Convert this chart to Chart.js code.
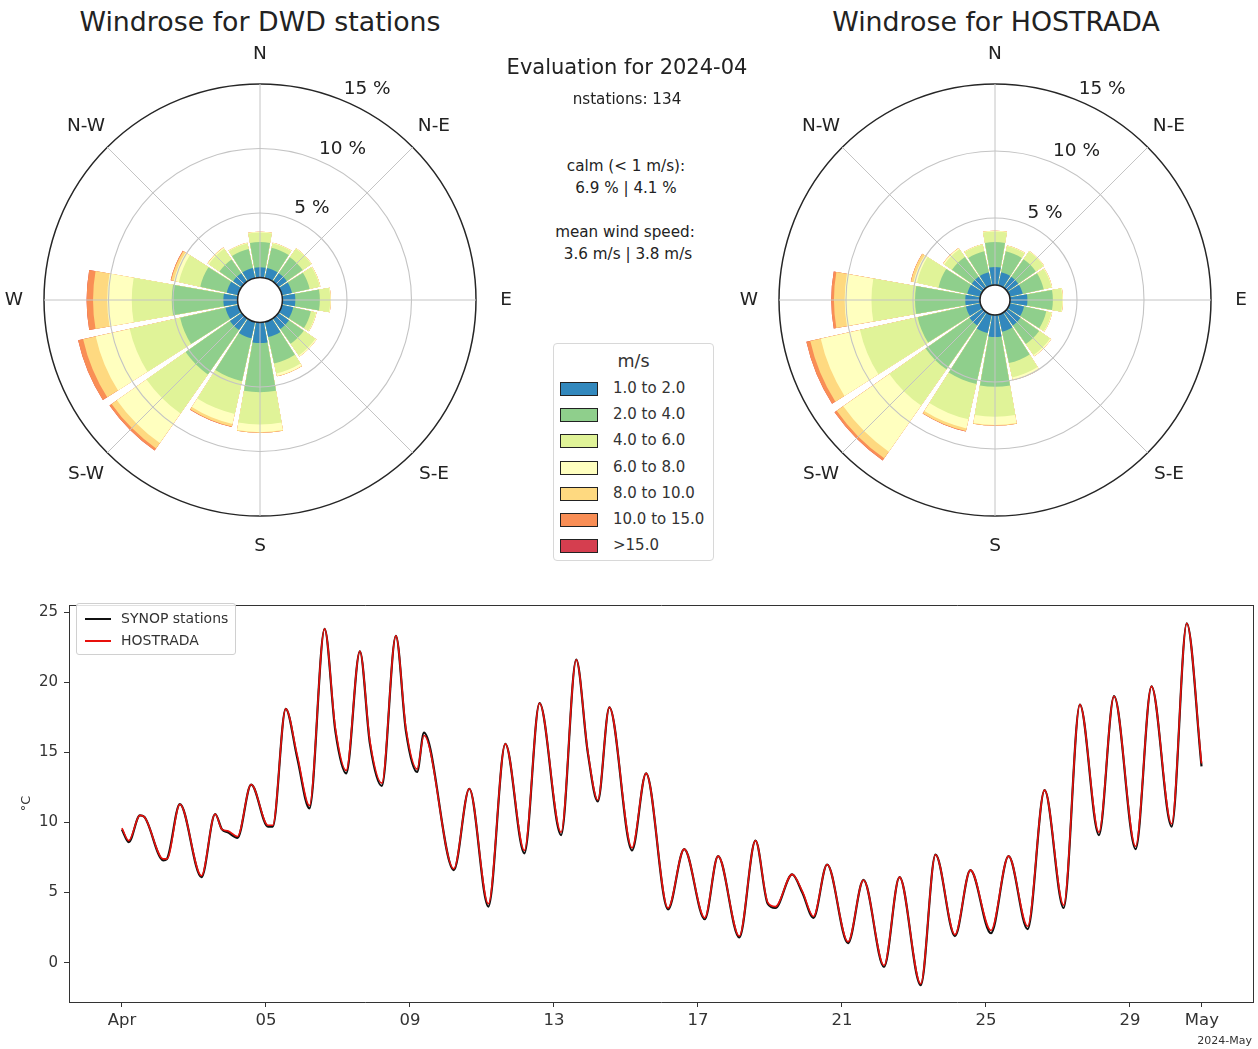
<!DOCTYPE html>
<html><head><meta charset="utf-8">
<script src="https://cdn.jsdelivr.net/npm/chart.js@4"></script>
<style>
body{margin:0;background:#fff;width:1258px;height:1049px;position:relative;overflow:hidden;font-family:"DejaVu Sans",sans-serif;color:#222}
canvas{position:absolute}
.t{position:absolute;transform:translate(-50%,-50%);white-space:nowrap;text-align:center}
#legend{position:absolute;left:553px;top:343px;width:159px;height:216px;border:1px solid #d8d8d8;border-radius:4px}
#legend .row{position:absolute;left:0;height:26px;width:100%}
#legend .sw{position:absolute;left:6px;width:36px;height:12px;border:1.5px solid #222;top:6px}
#legend .lb{position:absolute;left:59px;top:3px;font-size:15px;color:#333}
#lleg{position:absolute;left:76px;top:603px;width:158px;height:50px;border:1px solid #d0d0d0;border-radius:3px;background:rgba(255,255,255,0.85)}
#lleg .ln{position:absolute;left:8px;width:26px;height:2px}
#lleg .lb{position:absolute;left:44px;font-size:14px;color:#333}
</style></head><body>

<canvas id="roseDWD" width="512" height="520" style="left:4px;top:44px"></canvas>
<canvas id="roseHOS" width="512" height="520" style="left:739px;top:44px"></canvas>
<canvas id="temps" width="1258" height="459" style="left:0;top:590px"></canvas>

<div class="t" style="left:260px;top:21px;font-size:26.8px">Windrose for DWD stations</div>
<div class="t" style="left:996px;top:21px;font-size:26.8px">Windrose for HOSTRADA</div>
<div class="t" style="left:627px;top:67px;font-size:21px">Evaluation for 2024-04</div>
<div class="t" id="nst" style="left:627px;top:99px;font-size:15.2px"></div>
<div class="t" style="left:626px;top:166px;font-size:15.2px">calm (&lt; 1 m/s):</div>
<div class="t" id="calm" style="left:626px;top:188px;font-size:15.2px"></div>
<div class="t" style="left:625px;top:232px;font-size:15.2px">mean wind speed:</div>
<div class="t" id="mws" style="left:628px;top:254px;font-size:15.2px"></div>
<div id="legend"></div>
<div id="lleg"></div>
<div style="position:absolute;right:6px;top:1034px;font-size:11px;color:#333">2024-May</div>

<script>
// ---------------- data ----------------
const compassLabels = ['N','N-E','E','S-E','S','S-W','W','N-W'];
// 16 directions: N,NNE,NE,ENE,E,ESE,SE,SSE,S,SSW,SW,WSW,W,WNW,NW,NNW
const speedBins = ['1.0 to 2.0','2.0 to 4.0','4.0 to 6.0','6.0 to 8.0','8.0 to 10.0','10.0 to 15.0','>15.0'];
const rTicks = [5, 10, 15];

// DWD stations: frequency (%) per speed bin and direction
const dwd1 = [0.8,0.8,0.8,0.8,1.0,0.9,1.0,1.2,1.6,1.3,1.1,1.0,1.1,0.9,0.8,0.8];
const dwd2 = [1.95,1.6,1.5,1.4,1.9,1.4,1.4,2.1,3.8,3.4,4.2,3.6,4.0,2.1,1.3,1.5];
const dwd3 = [0.75,0.35,0.8,0.8,0.8,0.4,1.1,0.8,2.5,2.6,3.7,4.0,3.1,1.7,1.0,0.45];
const dwd4 = [0.05,0.05,0.05,0.05,0.05,0.05,0.1,0.2,0.6,0.8,2.8,2.7,1.9,0.4,0.1,0.05];
const dwd5 = [0,0,0,0,0,0,0,0.02,0.05,0.2,0.5,1.0,1.1,0.2,0.02,0];
const dwd6 = [0,0,0,0,0,0,0,0,0,0.05,0.2,0.4,0.5,0.05,0,0];
const dwd7 = [0,0,0,0,0,0,0,0,0,0,0,0,0,0,0,0];

// HOSTRADA
const hos1 = [1.35,1.0,1.0,1.0,1.3,1.1,1.2,1.3,1.65,1.4,1.2,1.1,1.1,1.0,1.0,1.0];
const hos2 = [1.85,1.6,1.6,1.6,1.9,1.7,1.7,2.4,3.7,3.9,4.0,3.7,3.75,2.2,1.8,1.6];
const hos3 = [0.8,0.4,0.7,0.6,0.7,0.4,1.0,1.1,2.25,2.7,3.3,4.4,3.25,1.65,0.7,0.5];
const hos4 = [0.05,0.05,0.05,0.05,0.05,0.05,0.1,0.2,0.6,0.7,4.2,3.0,2.0,0.25,0.1,0.05];
const hos5 = [0,0,0,0,0,0,0,0.02,0.05,0.2,0.6,0.8,0.8,0.2,0.02,0];
const hos6 = [0,0,0,0,0,0,0,0,0,0.03,0.2,0.3,0.2,0.02,0,0];
const hos7 = [0,0,0,0,0,0,0,0,0,0,0,0,0,0,0,0];

const nStations = 134;
const calmPct = [6.9, 4.1];
const meanSpeed = [3.6, 3.8];

// temperature time series (days since 2024-04-01 00:00, °C)
const tDays = [0.00,0.19,0.50,0.62,1.15,1.25,1.61,2.21,2.59,2.78,2.94,3.21,3.59,4.06,4.19,4.55,4.87,5.21,5.63,5.93,6.23,6.61,6.89,7.22,7.61,7.89,8.20,8.39,9.22,9.65,10.18,10.65,11.18,11.60,12.20,12.62,12.94,13.22,13.54,14.17,14.56,15.17,15.62,16.19,16.56,17.15,17.60,17.94,18.15,18.62,18.90,19.21,19.59,20.17,20.60,21.17,21.60,22.19,22.60,23.14,23.57,24.14,24.63,25.16,25.63,26.16,26.61,27.14,27.56,28.16,28.60,29.16,29.58,29.99];
const tHostrada = [9.6,8.7,10.5,10.4,7.4,7.4,11.3,6.2,10.6,9.5,9.4,9.0,12.7,9.8,9.8,18.1,14.8,11.2,23.8,16.7,13.7,22.2,15.8,12.8,23.3,16.7,13.8,16.2,6.7,12.4,4.2,15.6,8.0,18.5,9.3,21.6,15.1,11.6,18.2,8.2,13.5,3.9,8.1,3.2,7.6,1.9,8.7,4.3,4.0,6.3,5.1,3.3,7.0,1.5,5.9,-0.2,6.1,-1.5,7.7,2.0,6.6,2.3,7.6,2.6,12.3,4.1,18.4,9.3,19.0,8.3,19.7,9.9,24.2,14.2];
const tSynop = [9.5,8.6,10.5,10.4,7.3,7.4,11.3,6.1,10.6,9.5,9.3,8.9,12.7,9.7,9.7,18.1,14.6,11.0,23.8,16.5,13.5,22.2,15.6,12.6,23.3,16.5,13.6,16.4,6.6,12.4,4.0,15.6,7.8,18.5,9.1,21.6,15.0,11.5,18.2,8.0,13.5,3.8,8.1,3.1,7.6,1.8,8.7,4.2,3.9,6.3,5.0,3.2,7.0,1.4,5.9,-0.3,6.1,-1.6,7.7,1.9,6.6,2.1,7.6,2.4,12.3,3.9,18.4,9.1,19.0,8.1,19.7,9.7,24.2,14.0];
const xTickPos = [0,4,8,12,16,20,24,28,30];
const xTickLabels = ['Apr','05','09','13','17','21','25','29','May'];
const yTicks = [0,5,10,15,20,25];

// ---------------- styles ----------------
const binColors = ['#3288bd','#8fcf8c','#e0f398','#ffffbf','#fed980','#f98e55','#d53e4f'];
const FONT = '"DejaVu Sans", sans-serif';
const BAR = 20, GAP = 2.5;

// ---------------- text / legends ----------------
document.getElementById('nst').textContent = 'nstations: ' + nStations;
document.getElementById('calm').textContent = calmPct[0].toFixed(1) + ' % | ' + calmPct[1].toFixed(1) + ' %';
document.getElementById('mws').textContent = meanSpeed[0].toFixed(1) + ' m/s | ' + meanSpeed[1].toFixed(1) + ' m/s';

const leg = document.getElementById('legend');
leg.innerHTML = '<div style="position:absolute;left:0;width:100%;top:7px;text-align:center;font-size:17.5px;color:#333">m/s</div>';
speedBins.forEach((b, i) => {
  const row = document.createElement('div');
  row.className = 'row';
  row.style.top = (32 + i * 26.2) + 'px';
  row.innerHTML = '<div class="sw" style="background:' + binColors[i] + '"></div><div class="lb">' + b.replace('>', '&gt;') + '</div>';
  leg.appendChild(row);
});

const seriesStyle = [{label:'SYNOP stations', color:'#111111'}, {label:'HOSTRADA', color:'#e8100c'}];
const lleg = document.getElementById('lleg');
seriesStyle.forEach((s, i) => {
  const ln = document.createElement('div');
  ln.className = 'ln';
  ln.style.top = (14 + i * 22) + 'px';
  ln.style.background = s.color;
  const lb = document.createElement('div');
  lb.className = 'lb';
  lb.style.top = (6 + i * 22) + 'px';
  lb.textContent = s.label;
  lleg.appendChild(ln); lleg.appendChild(lb);
});

// ---------------- wind roses ----------------
const roseDecor = {
  id: 'roseDecor',
  afterDraw(chart) {
    const s = chart.scales.r, ctx = chart.ctx;
    const cx = s.xCenter, cy = s.yCenter;
    ctx.save();
    ctx.beginPath();
    ctx.arc(cx, cy, s.getDistanceFromCenterForValue(0), 0, 2 * Math.PI);
    ctx.fillStyle = '#fff'; ctx.fill();
    ctx.lineWidth = 1.5; ctx.strokeStyle = '#222'; ctx.stroke();
    ctx.fillStyle = '#222';
    ctx.font = '18.5px ' + FONT;
    ctx.textAlign = 'center'; ctx.textBaseline = 'middle';
    compassLabels.forEach((lab, i) => {
      const p = s.getPointPosition(i, s.drawingArea + 30);
      ctx.fillText(lab, p.x, p.y);
    });
    ctx.textAlign = 'left'; ctx.textBaseline = 'bottom';
    const a = 22.5 * Math.PI / 180;
    rTicks.forEach(v => {
      const d = s.getDistanceFromCenterForValue(v);
      ctx.fillText(v + ' %', cx + Math.sin(a) * d + 1, cy - Math.cos(a) * d - 2);
    });
    ctx.restore();
  }
};

function buildRose(id, bins, rMin) {
  let run = new Array(16).fill(0);
  const datasets = bins.map((arr, b) => {
    run = run.map((v, i) => v + arr[i]);
    const data = [0];
    run.forEach(v => data.push(v, 0));
    return {
      label: speedBins[b],
      data,
      borderWidth: 0,
      backgroundColor: c => (c.dataIndex % 2 === 1 ? binColors[b] : 'rgba(0,0,0,0)'),
      angle: c => (c.dataIndex === 0 ? -BAR / 2 : (c.dataIndex % 2 === 1 ? BAR : GAP))
    };
  });
  new Chart(document.getElementById(id), {
    type: 'polarArea',
    data: { labels: compassLabels, datasets },
    options: {
      responsive: false, animation: false, events: [],
      layout: { padding: { left: 40, right: 40, top: 40, bottom: 48 } },
      plugins: { legend: { display: false }, tooltip: { enabled: false } },
      scales: {
        r: {
          min: rMin, max: 15, startAngle: 0,
          afterBuildTicks: s => { s.ticks = rTicks.map(v => ({ value: v })); },
          ticks: { display: false },
          pointLabels: { display: false },
          angleLines: { display: true, color: '#c4c4c4', lineWidth: 1 },
          grid: {
            circular: true, z: 1,
            color: c => (c.tick && c.tick.value === 15 ? '#262626' : '#c4c4c4'),
            lineWidth: c => (c.tick && c.tick.value === 15 ? 1.5 : 1.1)
          }
        }
      }
    },
    plugins: [roseDecor]
  });
}
buildRose('roseDWD', [dwd1, dwd2, dwd3, dwd4, dwd5, dwd6, dwd7], -1.74);
buildRose('roseHOS', [hos1, hos2, hos3, hos4, hos5, hos6, hos7], -1.12);

// ---------------- temperature chart ----------------
const frameAxis = pos => ({
  type: 'linear', position: pos, display: true,
  ticks: { display: false }, grid: { display: false, drawTicks: false },
  border: { display: true, color: '#333', width: 1 },
  afterFit: s => { if (pos === 'top') s.height = 0; else s.width = 0; }
});
new Chart(document.getElementById('temps'), {
  type: 'line',
  data: {
    datasets: [
      { label: 'HOSTRADA', data: tDays.map((d, i) => ({ x: d, y: tHostrada[i] })), borderColor: seriesStyle[1].color, borderWidth: 1.6, pointRadius: 0, cubicInterpolationMode: 'monotone', order: 0 },
      { label: 'SYNOP stations', data: tDays.map((d, i) => ({ x: d, y: tSynop[i] })), borderColor: seriesStyle[0].color, borderWidth: 2.2, pointRadius: 0, cubicInterpolationMode: 'monotone', order: 1 }
    ]
  },
  options: {
    responsive: false, animation: false, events: [],
    layout: { padding: { left: 0, top: 8, right: 5, bottom: 0 } },
    plugins: { legend: { display: false }, tooltip: { enabled: false } },
    scales: {
      x: {
        type: 'linear', min: -1.47, max: 31.42,
        afterBuildTicks: s => { s.ticks = xTickPos.map(v => ({ value: v })); },
        ticks: { autoSkip: false, maxRotation: 0, padding: 4, color: '#333', font: { family: FONT, size: 16.5 },
                 callback: (v, i) => xTickLabels[i] },
        grid: { drawOnChartArea: false, tickLength: 5, color: '#333' },
        border: { color: '#333', width: 1 },
        afterFit: s => { s.height = 47; }
      },
      y: {
        min: -2.8, max: 25.5,
        afterBuildTicks: s => { s.ticks = yTicks.map(v => ({ value: v })); },
        ticks: { padding: 6, color: '#333', font: { family: FONT, size: 15 } },
        grid: { drawOnChartArea: false, tickLength: 5, color: '#333' },
        border: { color: '#333', width: 1 },
        title: { display: true, text: '°C', color: '#333', font: { family: FONT, size: 13 }, padding: { top: 19, bottom: 0 } },
        afterFit: s => { s.width = 69; }
      },
      x2: frameAxis('top'),
      y2: frameAxis('right')
    }
  }
});
</script>
</body></html>
